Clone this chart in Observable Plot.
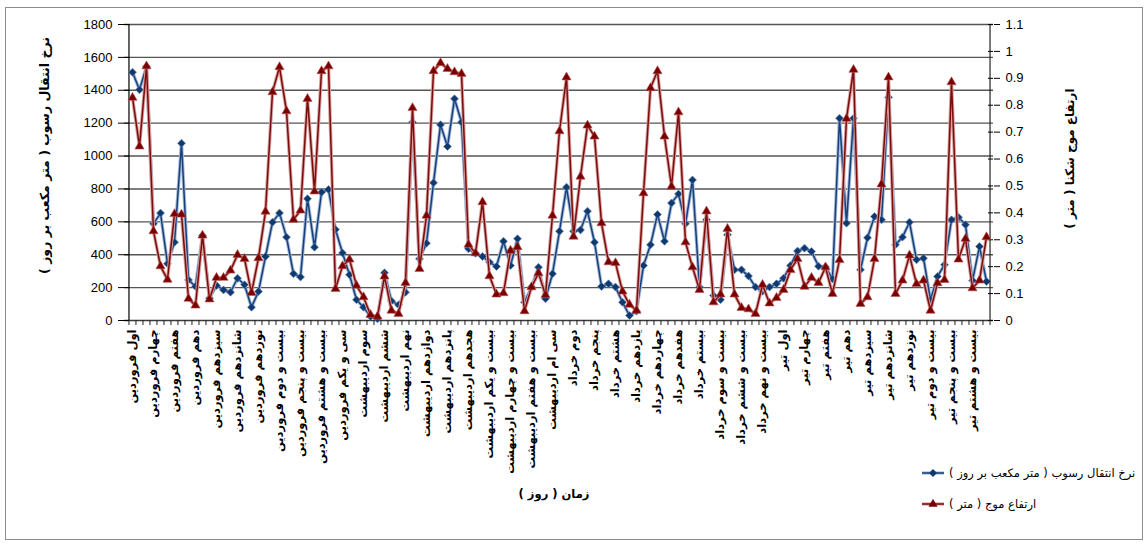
<!DOCTYPE html>
<html>
<head>
<meta charset="utf-8">
<script src="https://cdn.jsdelivr.net/npm/d3@7"></script>
<script src="https://cdn.jsdelivr.net/npm/@observablehq/plot@0.6"></script>
<style>
  body { margin: 0; background: #fff; }
  #chart { position: relative; width: 1145px; height: 543px; background: #fff; }
  #chart svg { position: absolute; left: 0; top: 0; }
</style>
</head>
<body>
<div id="chart"></div>
<script>
// Day names (Persian calendar, Farvardin to Tir)
const ordinals = ["اول","دوم","سوم","چهارم","پنجم","ششم","هفتم","هشتم","نهم","دهم",
  "یازدهم","دوازدهم","سیزدهم","چهاردهم","پانزدهم","شانزدهم","هفدهم","هجدهم","نوزدهم","بیستم",
  "بیست و یکم","بیست و دوم","بیست و سوم","بیست و چهارم","بیست و پنجم","بیست و ششم",
  "بیست و هفتم","بیست و هشتم","بیست و نهم","سی ام","سی و یکم"];
const monthNames = ["فروردین","اردیبهشت","خرداد","تیر"];
const monthLengths = [31, 31, 31, 30];

// Sediment transport rate (m³/day)
const sediment = [
  1510,1403,1545,588,653,345,476,1078,247,207,
  517,136,213,186,172,257,217,81,176,389,
  598,653,507,284,264,740,446,780,797,553,
  411,278,126,81,25,10,290,118,95,172,
  1206,375,470,837,1190,1058,1348,1206,436,409,
  389,355,328,482,334,497,111,203,324,132,
  284,543,811,543,551,665,476,207,223,203,
  111,30,57,334,460,645,482,714,770,588,
  855,203,612,152,126,521,308,308,270,203,
  178,203,223,257,334,422,440,420,330,325,
  253,1230,592,1230,308,503,632,612,1358,460,
  507,598,369,379,126,268,339,612,628,582,
  243,450,237
];

// Breaking wave height (m)
const waveHeight = [
  0.828,0.647,0.945,0.332,0.202,0.152,0.396,0.394,0.081,0.056,
  0.316,0.079,0.159,0.159,0.186,0.244,0.229,0.103,0.232,0.405,
  0.849,0.942,0.778,0.375,0.409,0.824,0.480,0.927,0.945,0.118,
  0.202,0.227,0.130,0.087,0.021,0.015,0.164,0.037,0.025,0.140,
  0.790,0.192,0.390,0.927,0.957,0.935,0.923,0.917,0.282,0.250,
  0.440,0.165,0.097,0.102,0.260,0.273,0.035,0.124,0.176,0.095,
  0.390,0.704,0.904,0.312,0.535,0.725,0.684,0.362,0.217,0.214,
  0.108,0.059,0.037,0.473,0.864,0.927,0.684,0.498,0.774,0.291,
  0.198,0.114,0.406,0.068,0.097,0.341,0.097,0.047,0.042,0.025,
  0.133,0.064,0.084,0.114,0.188,0.229,0.126,0.159,0.140,0.198,
  0.099,0.225,0.750,0.932,0.062,0.087,0.229,0.506,0.904,0.099,
  0.149,0.242,0.136,0.149,0.037,0.139,0.151,0.886,0.227,0.304,
  0.120,0.149,0.310
];

const sedimentTicks = [0,200,400,600,800,1000,1200,1400,1600,1800];
const waveTicks = [0,0.1,0.2,0.3,0.4,0.5,0.6,0.7,0.8,0.9,1,1.1];

const sedimentTitle = "نرخ انتقال رسوب ( متر مکعب بر روز )";
const waveTitle = "ارتفاع موج شکنا ( متر )";
const timeTitle = "زمان ( روز )";
const legendLabels = ["نرخ انتقال رسوب ( متر مکعب بر روز )", "ارتفاع موج ( متر )"];

// Right-to-left marks keep the parentheses in place inside SVG text
const rtl = s => "\u200F" + s + "\u200F";

const days = monthNames.flatMap((m, k) => ordinals.slice(0, monthLengths[k]).map(o => o + " " + m));
const labelDays = days.filter((d, i) => i % 3 === 0);
const rows = days.map((day, i) => ({day, sediment: sediment[i], wave: waveHeight[i]}));

const W = 1145, H = 543;
const mL = 124, mR = 152, mT = 24, mB = 223;
const plotW = W - mL - mR;
const step = plotW / days.length;

const blue = "#17407a", blueHalo = "#a3b9d8";
const red = "#7a0c0c", redHalo = "#d9a0a0";
const persian = "DejaVu Sans, sans-serif";

const xScale = {type: "point", domain: days, padding: 0.5, align: 0.5, axis: null};
const common = {
  width: W, height: H,
  marginLeft: mL, marginRight: mR, marginTop: mT, marginBottom: mB,
  x: xScale
};

// Left axis: sediment transport
const plotA = Plot.plot({
  ...common,
  style: {background: "#fff", fontFamily: "Liberation Sans, Arial, sans-serif", fontSize: "13px", color: "#000"},
  y: {domain: [0, 1800], axis: null},
  marks: [
    Plot.gridY(sedimentTicks.filter(v => v > 0), {stroke: "#555", strokeOpacity: 1, strokeWidth: 1.4}),
    Plot.ruleY([0], {stroke: "#3a3a3a", strokeWidth: 1.4}),
    Plot.ruleX([days[0]], {dx: -step / 2, stroke: "#000", strokeWidth: 1.2}),
    Plot.ruleY(sedimentTicks, {stroke: "#000", insetRight: plotW - 5}),
    Plot.axisY(sedimentTicks, {anchor: "left", tickSize: 6, tickPadding: 6, fontSize: 13, label: null, tickFormat: d => String(d)}),
    // category boundary ticks
    Plot.axisX(days, {tickSize: 5, dx: -step / 2, tickFormat: () => "", label: null, stroke: "#222"}),
    Plot.axisX(labelDays, {tickSize: 0, tickPadding: 9, tickRotate: -90, textAnchor: "end",
      fontFamily: persian, fontWeight: "bold", fontSize: 11.5, label: null, tickFormat: d => rtl(d)}),
    Plot.text([rtl(sedimentTitle)], {frameAnchor: "left", textAnchor: "middle", dx: -80, dy: -17, rotate: -90,
      fontFamily: persian, fontWeight: "bold", fontSize: 12.5}),
    Plot.text([rtl(timeTitle)], {frameAnchor: "bottom", textAnchor: "middle", dx: -5, dy: 177,
      fontFamily: persian, fontWeight: "bold", fontSize: 11.5}),
    Plot.line(rows, {x: "day", y: "sediment", stroke: blueHalo, strokeWidth: 3.4}),
    Plot.line(rows, {x: "day", y: "sediment", stroke: blue, strokeWidth: 1.5}),
    Plot.dot(rows, {x: "day", y: "sediment", symbol: "diamond2", r: 3.6, fill: "#0f3a70", stroke: "#6d8cb8", strokeWidth: 0.6})
  ]
});

// Right axis: wave height
const plotB = Plot.plot({
  ...common,
  style: {background: "transparent", fontFamily: "Liberation Sans, Arial, sans-serif", fontSize: "13px", color: "#000"},
  y: {domain: [0, 1.1], axis: null},
  marks: [
    Plot.ruleX([days[days.length - 1]], {dx: step / 2, stroke: "#222", strokeWidth: 1.2}),
    Plot.ruleY(waveTicks, {stroke: "#000", insetLeft: plotW - 5}),
    Plot.axisY(waveTicks, {anchor: "right", tickSize: 6, tickPadding: 6, fontSize: 13, label: null,
      tickFormat: d => String(Math.round(d * 10) / 10)}),
    Plot.axisX([days[days.length - 1]], {tickSize: 5, dx: step / 2, tickFormat: () => "", label: null, stroke: "#222"}),
    Plot.text([rtl(waveTitle)], {frameAnchor: "right", textAnchor: "middle", dx: 77, dy: -14, rotate: -90,
      fontFamily: persian, fontWeight: "bold", fontSize: 12}),
    Plot.line(rows, {x: "day", y: "wave", stroke: redHalo, strokeWidth: 3.4}),
    Plot.line(rows, {x: "day", y: "wave", stroke: red, strokeWidth: 1.5}),
    Plot.dot(rows, {x: "day", y: "wave", symbol: "triangle", r: 3.4, fill: "#7a0000", stroke: "#b55", strokeWidth: 0.6})
  ]
});

const chart = document.getElementById("chart");
chart.appendChild(plotA);
chart.appendChild(plotB);

// Legend (below the right end of the chart)
const svg = d3.select(plotB);
const legend = svg.append("g").attr("font-family", persian).attr("font-size", 11.5).attr("text-anchor", "start");
const entries = [
  {label: legendLabels[0], color: blue, halo: blueHalo, symbol: d3.symbolDiamond2, fill: "#0f3a70", size: 40},
  {label: legendLabels[1], color: red, halo: redHalo, symbol: d3.symbolTriangle, fill: "#7a0000", size: 36}
];
entries.forEach((e, k) => {
  const g = legend.append("g").attr("transform", `translate(922,${473 + k * 31})`);
  g.append("line").attr("x1", 0).attr("x2", 22).attr("stroke", e.halo).attr("stroke-width", 3.2);
  g.append("line").attr("x1", 0).attr("x2", 22).attr("stroke", e.color).attr("stroke-width", 1.5);
  g.append("path").attr("d", d3.symbol(e.symbol, e.size)()).attr("transform", "translate(11,0)").attr("fill", e.fill);
  g.append("text").attr("x", 27).attr("dy", "0.35em").attr("text-anchor", "start").text(rtl(e.label));
});

// Thin outer frame
d3.select(plotA).append("rect")
  .attr("x", 5.5).attr("y", 7.5).attr("width", W - 8).attr("height", H - 11)
  .attr("fill", "none").attr("stroke", "#8c8c8c").attr("stroke-width", 1);
</script>
</body>
</html>
